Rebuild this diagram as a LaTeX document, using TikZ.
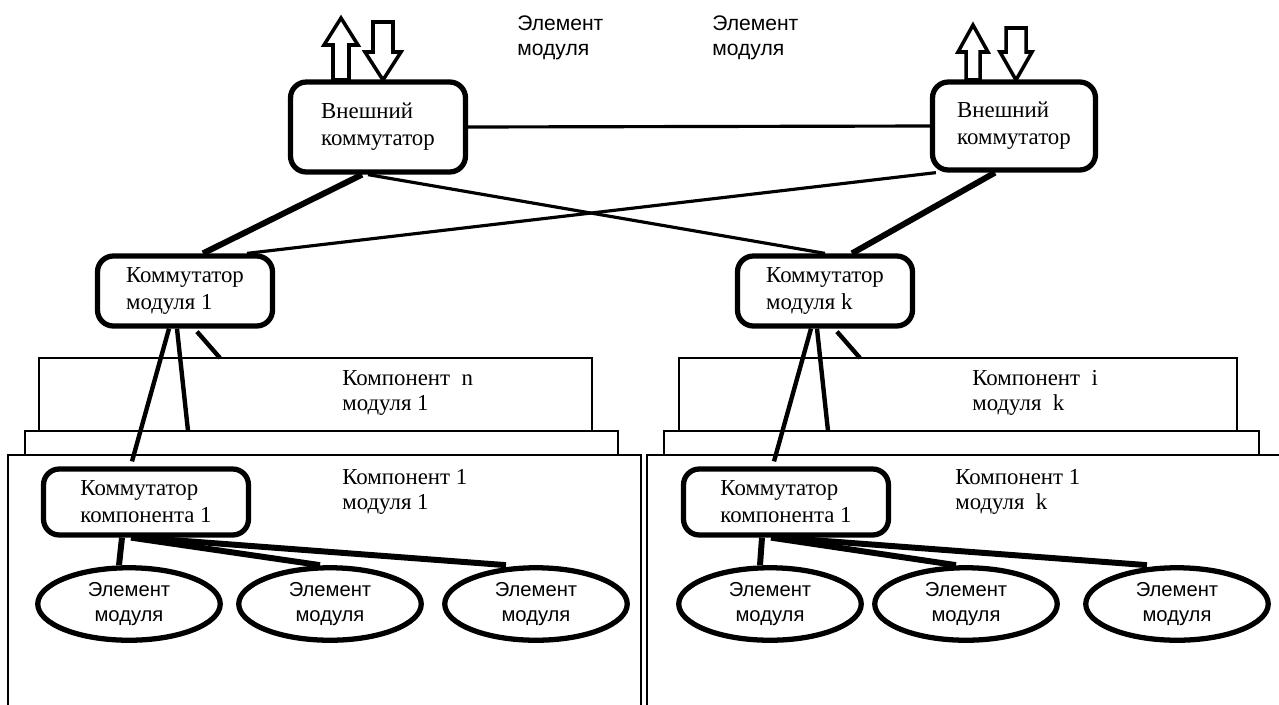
\documentclass[tikz,border=0pt]{standalone}
\usepackage{fontspec}
\setmainfont{Liberation Serif}
\newfontfamily\elemfont{Liberation Sans}
\usetikzlibrary{shapes.geometric,calc}

\newcommand{\blkup}[5]{\draw[blockarr] (#1-#4,#3) -- (#1-#4,#2+27) -- (#1-#5,#2+27) -- (#1,#2) -- (#1+#5,#2+27) -- (#1+#4,#2+27) -- (#1+#4,#3) -- cycle;}
\newcommand{\blkdown}[5]{\draw[blockarr] (#1-#4,#2) -- (#1-#4,#3-28) -- (#1-#5,#3-28) -- (#1,#3) -- (#1+#5,#3-28) -- (#1+#4,#3-28) -- (#1+#4,#2) -- cycle;}

\tikzset{
  sw/.style={draw, fill=white, line width=3pt, rounded corners=9pt, align=left,
    font=\fontsize{13}{15.5}\selectfont, inner sep=0pt},
  elem/.style={draw, fill=white, ellipse, line width=3pt, align=center,
    font=\elemfont\fontsize{11.5}{14}\selectfont, inner sep=0pt,
    minimum width=3.65cm, minimum height=1.45cm},
  comp/.style={draw, fill=white, line width=0.6pt},
  toplbl/.style={anchor=west, align=left, inner sep=0pt,
    font=\elemfont\fontsize{12}{14}\selectfont},
  cmplbl/.style={anchor=west, align=left, inner sep=0pt,
    font=\fontsize{13}{14.5}\selectfont},
  bold link/.style={line width=3.4pt},
  mid link/.style={line width=2.5pt},
  thin link/.style={line width=1.8pt},
  blockarr/.style={line width=2pt, fill=white, line join=miter}
}

\begin{document}
\begin{tikzpicture}[x=0.02cm, y=-0.02cm]
  \useasboundingbox (0,0) rectangle (1279,704);
  % component layers
  \draw[comp] (39,358) rectangle (592,470);
  \draw[comp] (25,431) rectangle (618,500);
  \draw[comp] (8,455) rectangle (641,720);
  \draw[comp] (679,358) rectangle (1237,470);
  \draw[comp] (664,431) rectangle (1259,500);
  \draw[comp] (647,455) rectangle (1290,720);

  \node[sw, minimum width=3.5cm, minimum height=1.8cm] (extL) at (378,127) {Внешний\\коммутатор};
  \node[sw, minimum width=3.26cm, minimum height=1.76cm] (extR) at (1014,126) {Внешний\\коммутатор};
  \node[sw, minimum width=3.5cm, minimum height=1.4cm] (mod1) at (185,291) {Коммутатор\\модуля 1};
  \node[sw, minimum width=3.5cm, minimum height=1.4cm] (modk) at (825,291) {Коммутатор\\модуля k};
  \node[sw, minimum width=4.1cm, minimum height=1.32cm] (csw1) at (146,502) {Коммутатор\\компонента 1};
  \node[sw, minimum width=4.1cm, minimum height=1.32cm] (cswk) at (786,502) {Коммутатор\\компонента 1};

  \foreach \n/\x in {1/129, 2/330, 3/536} \node[elem] (e\n) at (\x,604) {Элемент\\модуля};
  \foreach \n/\x in {1/770, 2/966, 3/1177} \node[elem] (f\n) at (\x,604) {Элемент\\модуля};

  \blkup{341}{18}{80}{8}{17}
  \blkdown{383}{22}{80}{10}{18}
  \blkup{973}{25}{80}{7}{15}
  \blkdown{1016}{28}{80}{10}{16}

  \node[toplbl] (top1) at (517,38) {Элемент\\модуля};
  \node[toplbl] (top2) at (712,38) {Элемент\\модуля};
  \node[cmplbl] (labn) at (342,393) {Компонент~~n\\модуля 1};
  \node[cmplbl] (labi) at (972,393) {Компонент~~i\\модуля~~k};
  \node[cmplbl] (lab1) at (342,492) {Компонент 1\\модуля 1};
  \node[cmplbl] (labk) at (955,492) {Компонент 1\\модуля~~k};

  \draw[thin link] (extL.east) -- (extR.west);
  \draw[bold link] ($(extL.south)+(-16,0)$) -- ($(mod1.north)+(18,0)$);
  \draw[thin link] ($(extL.south)+(-10,0)$) -- ($(modk.north)+(0,0)$);
  \draw[bold link] ($(extR.south)+(-19,0)$) -- ($(modk.north)+(27,0)$);
  \draw[thin link] ($(extR.south west)+(6,0)$) -- ($(mod1.north)+(62,0)$);

  \coordinate (n1) at (220,358);
  \coordinate (l1) at (188,431);
  \coordinate (nk) at (860,358);
  \coordinate (lk) at (828,431);
  \draw[mid link] ($(mod1.south)+(-16,0)$) -- ($(csw1.north)+(-14,-5)$);
  \draw[mid link] ($(mod1.south)+(-8,0)$) -- (l1);
  \draw[mid link] ($(mod1.south)+(12,3)$) -- (n1);
  \draw[mid link] ($(modk.south)+(-14,0)$) -- ($(cswk.north)+(-12,-5)$);
  \draw[mid link] ($(modk.south)+(-8,0)$) -- (lk);
  \draw[mid link] ($(modk.south)+(12,3)$) -- (nk);

  \foreach \n/\a/\b in {1/-24/-10, 2/-15/-10, 3/-6/-30} {
    \draw[bold link] ($(csw1.south)+(\a,0)$) -- ($(e\n.north)+(\b,0)$);
    \draw[bold link] ($(cswk.south)+(\a,0)$) -- ($(f\n.north)+(\b,0)$);
  }
\end{tikzpicture}
\end{document}
